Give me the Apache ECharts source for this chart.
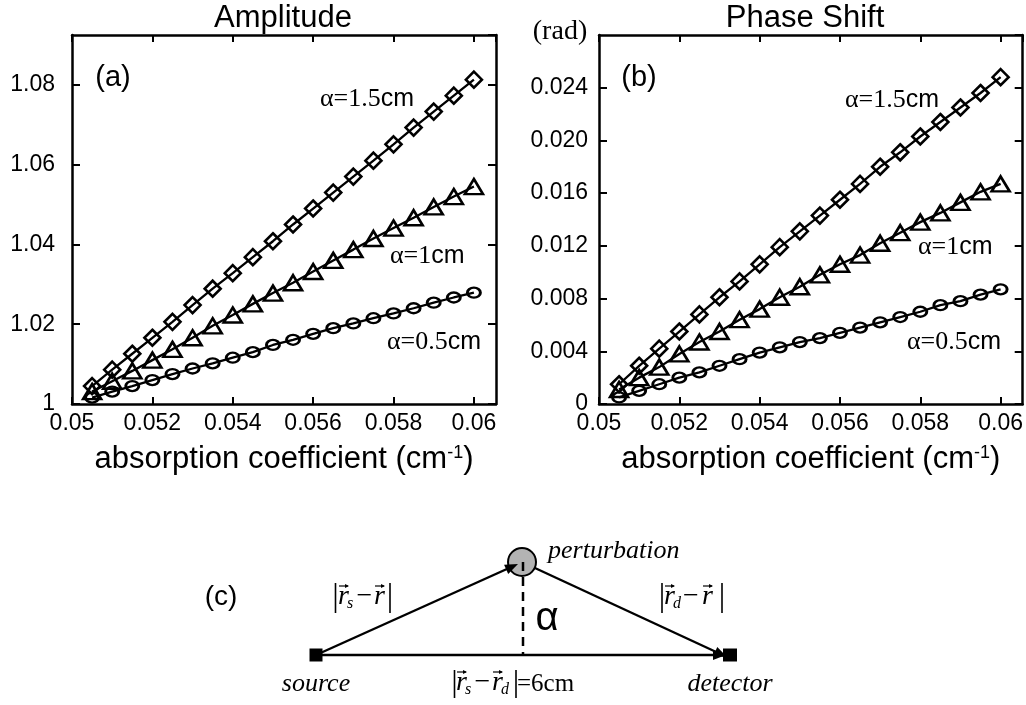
<!DOCTYPE html>
<html>
<head>
<meta charset="utf-8">
<script src="https://cdn.jsdelivr.net/npm/echarts@6/dist/echarts.min.js"></script>
<style>
html, body { margin: 0; padding: 0; background: #fff; }
#chart { width: 1026px; height: 705px; }
</style>
</head>
<body>
<div id="chart"></div>
<script>
// absorption coefficient (cm-1), shared by both panels
const absorption = [0.0505, 0.051, 0.0515, 0.052, 0.0525, 0.053, 0.0535, 0.054, 0.0545, 0.055,
                    0.0555, 0.056, 0.0565, 0.057, 0.0575, 0.058, 0.0585, 0.059, 0.0595, 0.06];

// (a) amplitude ratio
const amp15 = [1.0045, 1.0086, 1.0126, 1.0166, 1.0206, 1.0248, 1.0289, 1.0328, 1.0368, 1.0408,
               1.0450, 1.0490, 1.0530, 1.0570, 1.0610, 1.0651, 1.0693, 1.0733, 1.0773, 1.0813];
const amp10 = [1.0031, 1.0057, 1.0083, 1.0110, 1.0137, 1.0166, 1.0196, 1.0223, 1.0251, 1.0278,
               1.0304, 1.0332, 1.0360, 1.0387, 1.0415, 1.0441, 1.0467, 1.0494, 1.0520, 1.0545];
const amp05 = [1.0016, 1.0031, 1.0045, 1.0060, 1.0075, 1.0089, 1.0102, 1.0116, 1.0130, 1.0148,
               1.0161, 1.0176, 1.0190, 1.0202, 1.0215, 1.0227, 1.0240, 1.0254, 1.0267, 1.0279];

// (b) phase shift (rad)
const phase15 = [0.0015, 0.0029, 0.0042, 0.0055, 0.0068, 0.0081, 0.0093, 0.0106, 0.0119, 0.0131,
                 0.0143, 0.0155, 0.0167, 0.0180, 0.0191, 0.0203, 0.0214, 0.0225, 0.0236, 0.0248];
const phase10 = [0.0011, 0.0020, 0.0028, 0.0038, 0.0047, 0.0055, 0.0064, 0.0072, 0.0081, 0.0089,
                 0.0098, 0.0106, 0.0113, 0.0122, 0.0130, 0.0138, 0.0145, 0.0153, 0.0161, 0.0167];
const phase05 = [0.0005, 0.0010, 0.0015, 0.0020, 0.0024, 0.0029, 0.0034, 0.0039, 0.0043, 0.0047,
                 0.0050, 0.0054, 0.0058, 0.0062, 0.0066, 0.0070, 0.0075, 0.0078, 0.0083, 0.0087];

const curveNames = ['α=1.5cm', 'α=1cm', 'α=0.5cm'];

const SANS = 'Liberation Sans';
const SERIF = 'Liberation Serif';
const ellipse = 'path://M0,5a6,5 0 1,0 12,0a6,5 0 1,0 -12,0z';

function curve(panel, name, values, symbol, size) {
  return {
    name: name,
    type: 'line',
    xAxisIndex: panel * 2,
    yAxisIndex: panel * 2,
    data: absorption.map((x, i) => [x, values[i]]),
    symbol: symbol,
    symbolSize: size,
    showAllSymbol: true,
    lineStyle: { color: '#000', width: 2.3 },
    itemStyle: { color: 'rgba(0,0,0,0)', borderColor: '#000', borderWidth: 2.6 },
    emphasis: { disabled: true },
    silent: true
  };
}

function xAxis(grid, pos) {
  return {
    type: 'value', gridIndex: grid, position: pos,
    min: 0.05, max: 0.06055, interval: 0.002,
    axisLine: { show: true, onZero: false, lineStyle: { color: '#000', width: 2.5 } },
    axisTick: { show: true, inside: true, length: 7, lineStyle: { color: '#000', width: 2 } },
    axisLabel: {
      show: pos === 'bottom', showMaxLabel: false, margin: 8,
      color: '#000', fontSize: 23, fontFamily: SANS,
      formatter: v => String(+v.toFixed(4))
    },
    splitLine: { show: false },
    name: pos === 'bottom' ? 'absorption coefficient (cm{sup|-1})' : '',
    nameLocation: 'middle', nameGap: 40,
    nameTextStyle: {
      color: '#000', fontSize: 31, fontFamily: SANS,
      rich: { sup: { fontSize: 18, fontFamily: SANS, color: '#000', verticalAlign: 'top' } }
    }
  };
}

function yAxis(grid, pos, min, max, step, margin, fmt) {
  return {
    type: 'value', gridIndex: grid, position: pos,
    min: min, max: max, interval: step,
    axisLine: { show: true, onZero: false, lineStyle: { color: '#000', width: 2.5 } },
    axisTick: { show: true, inside: true, length: 8, lineStyle: { color: '#000', width: 2 } },
    axisLabel: {
      show: pos === 'left', showMaxLabel: false, margin: margin,
      color: '#000', fontSize: 23, fontFamily: SANS, formatter: fmt
    },
    splitLine: { show: false }
  };
}

const ampFmt = v => String(+v.toFixed(3));
const phaseFmt = v => (Math.abs(v) < 1e-9 ? '0' : v.toFixed(3));

// text helpers for the annotations
function txt(text, x, y, font, align) {
  return {
    type: 'text', x: x, y: y, silent: true,
    style: { text: text, font: font, fill: '#000',
             align: align || 'left', textAlign: align || 'left',
             verticalAlign: 'middle', textVerticalAlign: 'middle' }
  };
}
function curveLabel(value, x, y) {
  const m = value.match(/^(α=[\d.]+)(cm)$/);
  return {
    type: 'text', x: x, y: y, silent: true,
    style: {
      text: '{s|' + m[1] + '}{c|' + m[2] + '}',
      align: 'left', verticalAlign: 'middle',
      rich: {
        s: { fontSize: 26, fontFamily: SERIF, fill: '#000', color: '#000' },
        c: { fontSize: 25, fontFamily: SANS, fill: '#000', color: '#000' }
      }
    }
  };
}
function seg(x1, y1, x2, y2, w, dash) {
  return { type: 'line', silent: true, shape: { x1: x1, y1: y1, x2: x2, y2: y2 },
           style: { stroke: '#000', lineWidth: w, lineDash: dash || null } };
}
function head(x1, y1, x2, y2, len, half) {
  const dx = x2 - x1, dy = y2 - y1, L = Math.hypot(dx, dy), ux = dx / L, uy = dy / L;
  const bx = x2 - ux * len, by = y2 - uy * len;
  return { type: 'polygon', silent: true,
           shape: { points: [[x2, y2], [bx - uy * half, by + ux * half], [bx + uy * half, by - ux * half]] },
           style: { fill: '#000' } };
}
// vector r with arrow above and optional subscript
function vecR(x, cy, sub) {
  const out = [
    txt('r', x, cy, 'italic 28px ' + SERIF),
    seg(x + 1, cy - 11, x + 10, cy - 11, 1.2),
    head(x + 1, cy - 11, x + 11, cy - 11, 4, 2)
  ];
  if (sub) out.push(txt(sub, x + 9, cy + 7, 'italic 16px ' + SERIF));
  return out;
}

const S = [316, 655], P = [522, 562], D = [730, 655];

const diagram = [
  // source → perturbation
  seg(S[0], S[1], 518, 564, 2.4),
  // perturbation → detector
  seg(P[0], P[1], 727, 657, 2.4),
  // source → detector
  seg(S[0], S[1], 726, 655, 2.4),
  { type: 'circle', silent: true, shape: { cx: P[0], cy: P[1], r: 14 },
    style: { fill: '#b3b3b3', stroke: '#000', lineWidth: 2 } },
  head(S[0], S[1], 518, 564, 13, 5),
  head(P[0], P[1], 727, 657, 13, 5),
  head(S[0], S[1], 726, 655, 13, 5),
  seg(523, 562, 523, 655, 2.5, [9, 6]),
  { type: 'rect', silent: true, shape: { x: 309.5, y: 648.5, width: 13, height: 13 }, style: { fill: '#000' } },
  { type: 'rect', silent: true, shape: { x: 723, y: 648.5, width: 14, height: 13 }, style: { fill: '#000' } },
  txt('α', 547, 619, '40px ' + SANS, 'center'),
  txt('perturbation', 548, 551, 'italic 26px ' + SERIF),
  txt('source', 316, 684, 'italic 26px ' + SERIF, 'center'),
  txt('detector', 730, 684, 'italic 26px ' + SERIF, 'center'),
  txt('(c)', 221, 597, '28px ' + SANS, 'center'),
  // |r_s - r|
  seg(335.5, 583, 335.5, 613, 1.6),
  ...vecR(338, 597, 's'),
  txt('−', 364.5, 597, '28px ' + SERIF, 'center'),
  ...vecR(374, 597),
  seg(390, 583, 390, 613, 1.6),
  // |r_d - r|
  seg(662, 583, 662, 613, 1.6),
  ...vecR(664, 597, 'd'),
  txt('−', 691, 597, '28px ' + SERIF, 'center'),
  ...vecR(702, 597),
  seg(722, 583, 722, 613, 1.6),
  // |r_s - r_d| = 6cm
  seg(454.5, 670, 454.5, 698, 1.6),
  ...vecR(456, 683, 's'),
  txt('−', 482.5, 683, '28px ' + SERIF, 'center'),
  ...vecR(492, 683, 'd'),
  seg(516, 670, 516, 698, 1.6),
  txt('=6cm', 517, 684, '25px ' + SERIF)
];

const chart = echarts.init(document.getElementById('chart'), null, { renderer: 'canvas' });

chart.setOption({
  animation: false,
  backgroundColor: '#fff',
  title: [
    { text: 'Amplitude', left: 283, top: 3, padding: 0, textAlign: 'center',
      textStyle: { fontSize: 31, fontWeight: 'normal', fontFamily: SANS, color: '#000' } },
    { text: 'Phase Shift', left: 805, top: 3, padding: 0, textAlign: 'center',
      textStyle: { fontSize: 31, fontWeight: 'normal', fontFamily: SANS, color: '#000' } }
  ],
  grid: [
    { left: 72, top: 35, width: 424, height: 369 },
    { left: 599, top: 35, width: 424, height: 369 }
  ],
  xAxis: [xAxis(0, 'bottom'), xAxis(0, 'top'), xAxis(1, 'bottom'), xAxis(1, 'top')],
  yAxis: [
    yAxis(0, 'left', 1, 1.0925, 0.02, 17, ampFmt),
    yAxis(0, 'right', 1, 1.0925, 0.02, 17, ampFmt),
    yAxis(1, 'left', 0, 0.028, 0.004, 11, phaseFmt),
    yAxis(1, 'right', 0, 0.028, 0.004, 11, phaseFmt)
  ],
  series: [
    curve(0, curveNames[0], amp15, 'diamond', 16),
    curve(0, curveNames[1], amp10, 'triangle', [18, 15]),
    curve(0, curveNames[2], amp05, ellipse, [13, 10]),
    curve(1, curveNames[0], phase15, 'diamond', 16),
    curve(1, curveNames[1], phase10, 'triangle', [18, 15]),
    curve(1, curveNames[2], phase05, ellipse, [13, 10])
  ],
  graphic: [
    txt('(a)', 113, 78, '29px ' + SANS, 'center'),
    txt('(b)', 639, 78, '29px ' + SANS, 'center'),
    txt('(rad)', 560, 32, '28px ' + SERIF, 'center'),
    curveLabel(curveNames[0], 320, 99),
    curveLabel(curveNames[1], 390, 256),
    curveLabel(curveNames[2], 387, 342),
    curveLabel(curveNames[0], 845, 100),
    curveLabel(curveNames[1], 918, 247),
    curveLabel(curveNames[2], 907, 342),
    ...diagram
  ]
});
</script>
</body>
</html>
